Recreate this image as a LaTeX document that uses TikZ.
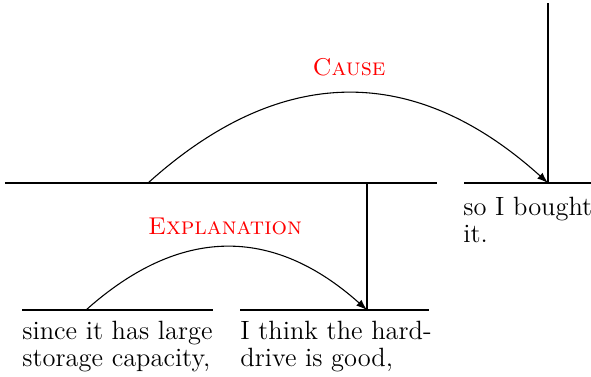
\documentclass[tikz,border=0pt]{standalone}
\usetikzlibrary{arrows.meta}
\begin{document}
\begin{tikzpicture}[x=0.4615pt,y=-0.4615pt,
  seg/.style={line width=0.5pt},
  rel/.style={line width=0.5pt,-{Latex[length=5pt,width=3.6pt]}},
  lbl/.style={text=red,inner sep=0pt,anchor=base,font=\fontsize{11.2}{13}\selectfont},
  txt/.style={inner sep=0pt,anchor=north west,align=left,font=\fontsize{12.2}{12.4}\selectfont}]
\useasboundingbox (0,0) rectangle (591,376);
% segment lines
\coordinate (topL) at (5,183);
\coordinate (topR) at (437,183);
\coordinate (soL) at (464,183);
\coordinate (soR) at (591,183);
\coordinate (rootTop) at (548,3);
\coordinate (rootBot) at (548,183);
\coordinate (expTop) at (367,183);
\coordinate (expBot) at (367,310);
\coordinate (sinL) at (22,310);
\coordinate (sinR) at (213,310);
\coordinate (thL) at (240,310);
\coordinate (thR) at (429,310);
\coordinate (causeStart) at (148,183);
\coordinate (explStart) at (86,310);
\draw[seg] (topL) -- (topR);
\draw[seg] (soL) -- (soR);
\draw[seg] (rootTop) -- (rootBot);
\draw[seg] (expTop) -- (expBot);
\draw[seg] (sinL) -- (sinR);
\draw[seg] (thL) -- (thR);
% texts
\node[txt] (so) at (463,196.5) {so I bought\\it.};
\node[txt] (since) at (22,320.5) {since it has large\\storage capacity,};
\node[txt] (think) at (240,320.5) {I think the hard-\\drive is good,};
% relations
\draw[rel] (causeStart) .. controls (281,63) and (415,63) .. (rootBot);
\draw[rel] (explStart) .. controls (180,226) and (273,226) .. (expBot);
\node[lbl] (cause) at (349,75) {\textsc{Cause}};
\node[lbl] (expl) at (225,234) {\textsc{Explanation}};
\end{tikzpicture}
\end{document}
